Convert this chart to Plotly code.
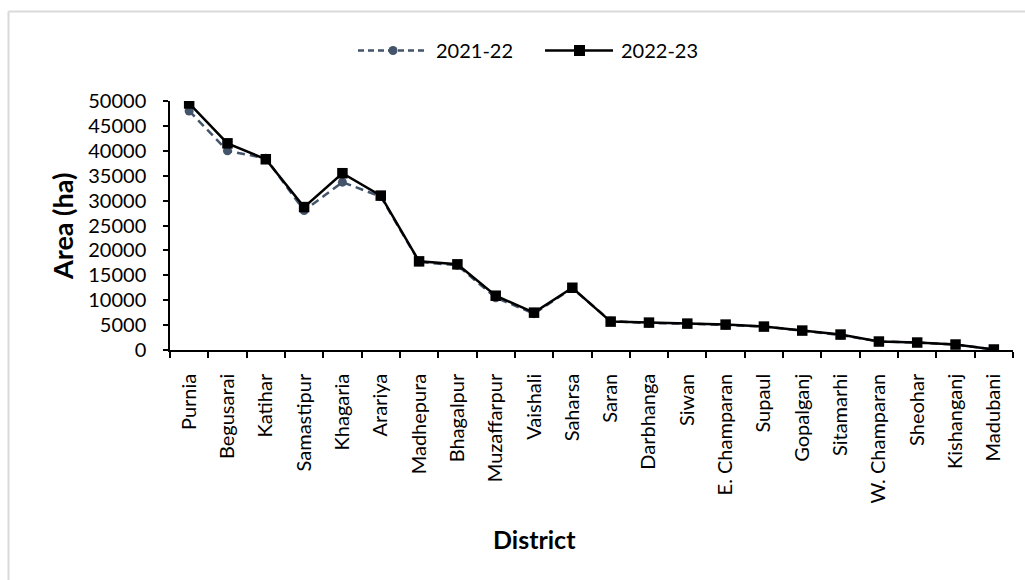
import plotly.graph_objects as go

# Districts, ordered by 2022-23 area
districts = ["Purnia", "Begusarai", "Katihar", "Samastipur", "Khagaria", "Arariya",
             "Madhepura", "Bhagalpur", "Muzaffarpur", "Vaishali", "Saharsa", "Saran",
             "Darbhanga", "Siwan", "E. Champaran", "Supaul", "Gopalganj", "Sitamarhi",
             "W. Champaran", "Sheohar", "Kishanganj", "Madubani"]

# Area (ha)
area_2021_22 = [48000, 40000, 38500, 28000, 33700, 30800, 17700, 17000, 10500, 7300,
                12400, 5800, 5400, 5300, 5000, 4700, 3900, 3000, 1700, 1500, 1100, 100]
area_2022_23 = [49500, 41500, 38300, 28700, 35500, 31000, 17800, 17200, 10900, 7500,
                12500, 5700, 5500, 5300, 5100, 4700, 3900, 3100, 1700, 1500, 1100, 100]

y_ticks = list(range(0, 50001, 5000))

FONT = "Lato"
C_OLD = "#44546A"
C_NEW = "#000000"
DASH = "8px,5px"

fig = go.Figure()
fig.add_trace(go.Scatter(
    x=districts, y=area_2021_22, name="2021-22", mode="lines+markers",
    line=dict(color=C_OLD, width=2.5, dash=DASH),
    marker=dict(symbol="circle", size=9, color=C_OLD),
))
fig.add_trace(go.Scatter(
    x=districts, y=area_2022_23, name="2022-23", mode="lines+markers",
    line=dict(color=C_NEW, width=2.5),
    marker=dict(symbol="square", size=10.5, color=C_NEW),
))

L, R, T, B = 170, 12, 101, 230
W, H = 1025, 580
pw, ph = W - L - R, H - T - B

def px_x(p):
    return (p - L) / pw

def px_y(p):
    return (H - B - p) / ph

# Legend drawn as a header row: long line samples with a marker in the middle
LEG_Y = 50.5
legend_shapes = [
    dict(type="line", xref="paper", yref="paper",
         x0=px_x(358), x1=px_x(427), y0=px_y(LEG_Y), y1=px_y(LEG_Y),
         line=dict(color=C_OLD, width=2.5, dash="6px,4px")),
    dict(type="circle", xref="paper", yref="paper",
         x0=px_x(388.5), x1=px_x(397.5), y0=px_y(LEG_Y + 4.5), y1=px_y(LEG_Y - 4.5),
         fillcolor=C_OLD, line=dict(color=C_OLD, width=0)),
    dict(type="line", xref="paper", yref="paper",
         x0=px_x(545), x1=px_x(613), y0=px_y(LEG_Y), y1=px_y(LEG_Y),
         line=dict(color=C_NEW, width=2.5)),
    dict(type="rect", xref="paper", yref="paper",
         x0=px_x(574), x1=px_x(585), y0=px_y(LEG_Y + 5.5), y1=px_y(LEG_Y - 5.5),
         fillcolor=C_NEW, line=dict(color=C_NEW, width=0)),
]
legend_labels = [
    dict(text="2021-22", x=px_x(434), y=px_y(LEG_Y), xref="paper", yref="paper",
         showarrow=False, font=dict(size=20), xanchor="left", yanchor="middle"),
    dict(text="2022-23", x=px_x(619), y=px_y(LEG_Y), xref="paper", yref="paper",
         showarrow=False, font=dict(size=20), xanchor="left", yanchor="middle"),
]

# Chart frame (only its top and left edges fall inside the page)
frame = [
    dict(type="line", xref="paper", yref="paper",
         x0=px_x(8.5), x1=px_x(1040), y0=px_y(11.5), y1=px_y(11.5),
         line=dict(color="#D9D9D9", width=2)),
    dict(type="line", xref="paper", yref="paper",
         x0=px_x(8.5), x1=px_x(8.5), y0=px_y(11.5), y1=px_y(600),
         line=dict(color="#D9D9D9", width=2)),
]

fig.update_layout(
    width=W, height=H,
    margin=dict(l=L, r=R, t=T, b=B),
    paper_bgcolor="white", plot_bgcolor="white",
    font=dict(family=FONT, size=19, color="#000000"),
    showlegend=False,
    xaxis=dict(
        type="category", range=[-0.5, len(districts) - 0.5],
        showline=True, linecolor="#000000", linewidth=1.5,
        ticks="outside", tickson="boundaries", ticklen=6, tickcolor="#000000", tickwidth=1.5,
        tickangle=-90, tickfont=dict(size=20), ticklabelstandoff=14,
        showgrid=False, zeroline=False,
    ),
    yaxis=dict(
        range=[0, 50000], tickvals=y_ticks, ticktext=[str(v) for v in y_ticks],
        showline=True, linecolor="#000000", linewidth=1.5,
        ticks="outside", ticklen=5, tickcolor="#000000", tickwidth=1.5,
        tickfont=dict(size=20), ticklabelstandoff=13,
        showgrid=False, zeroline=False,
    ),
    annotations=[
        dict(text="<b>Area (ha)</b>", x=px_x(62), y=px_y(227), xref="paper", yref="paper",
             textangle=-90, showarrow=False, font=dict(size=27),
             xanchor="center", yanchor="middle"),
        dict(text="<b>District</b>", x=px_x(534), y=px_y(539), xref="paper", yref="paper",
             showarrow=False, font=dict(size=25), xanchor="center", yanchor="middle"),
    ] + legend_labels,
    shapes=frame + legend_shapes,
)

fig.write_html("out.html")
